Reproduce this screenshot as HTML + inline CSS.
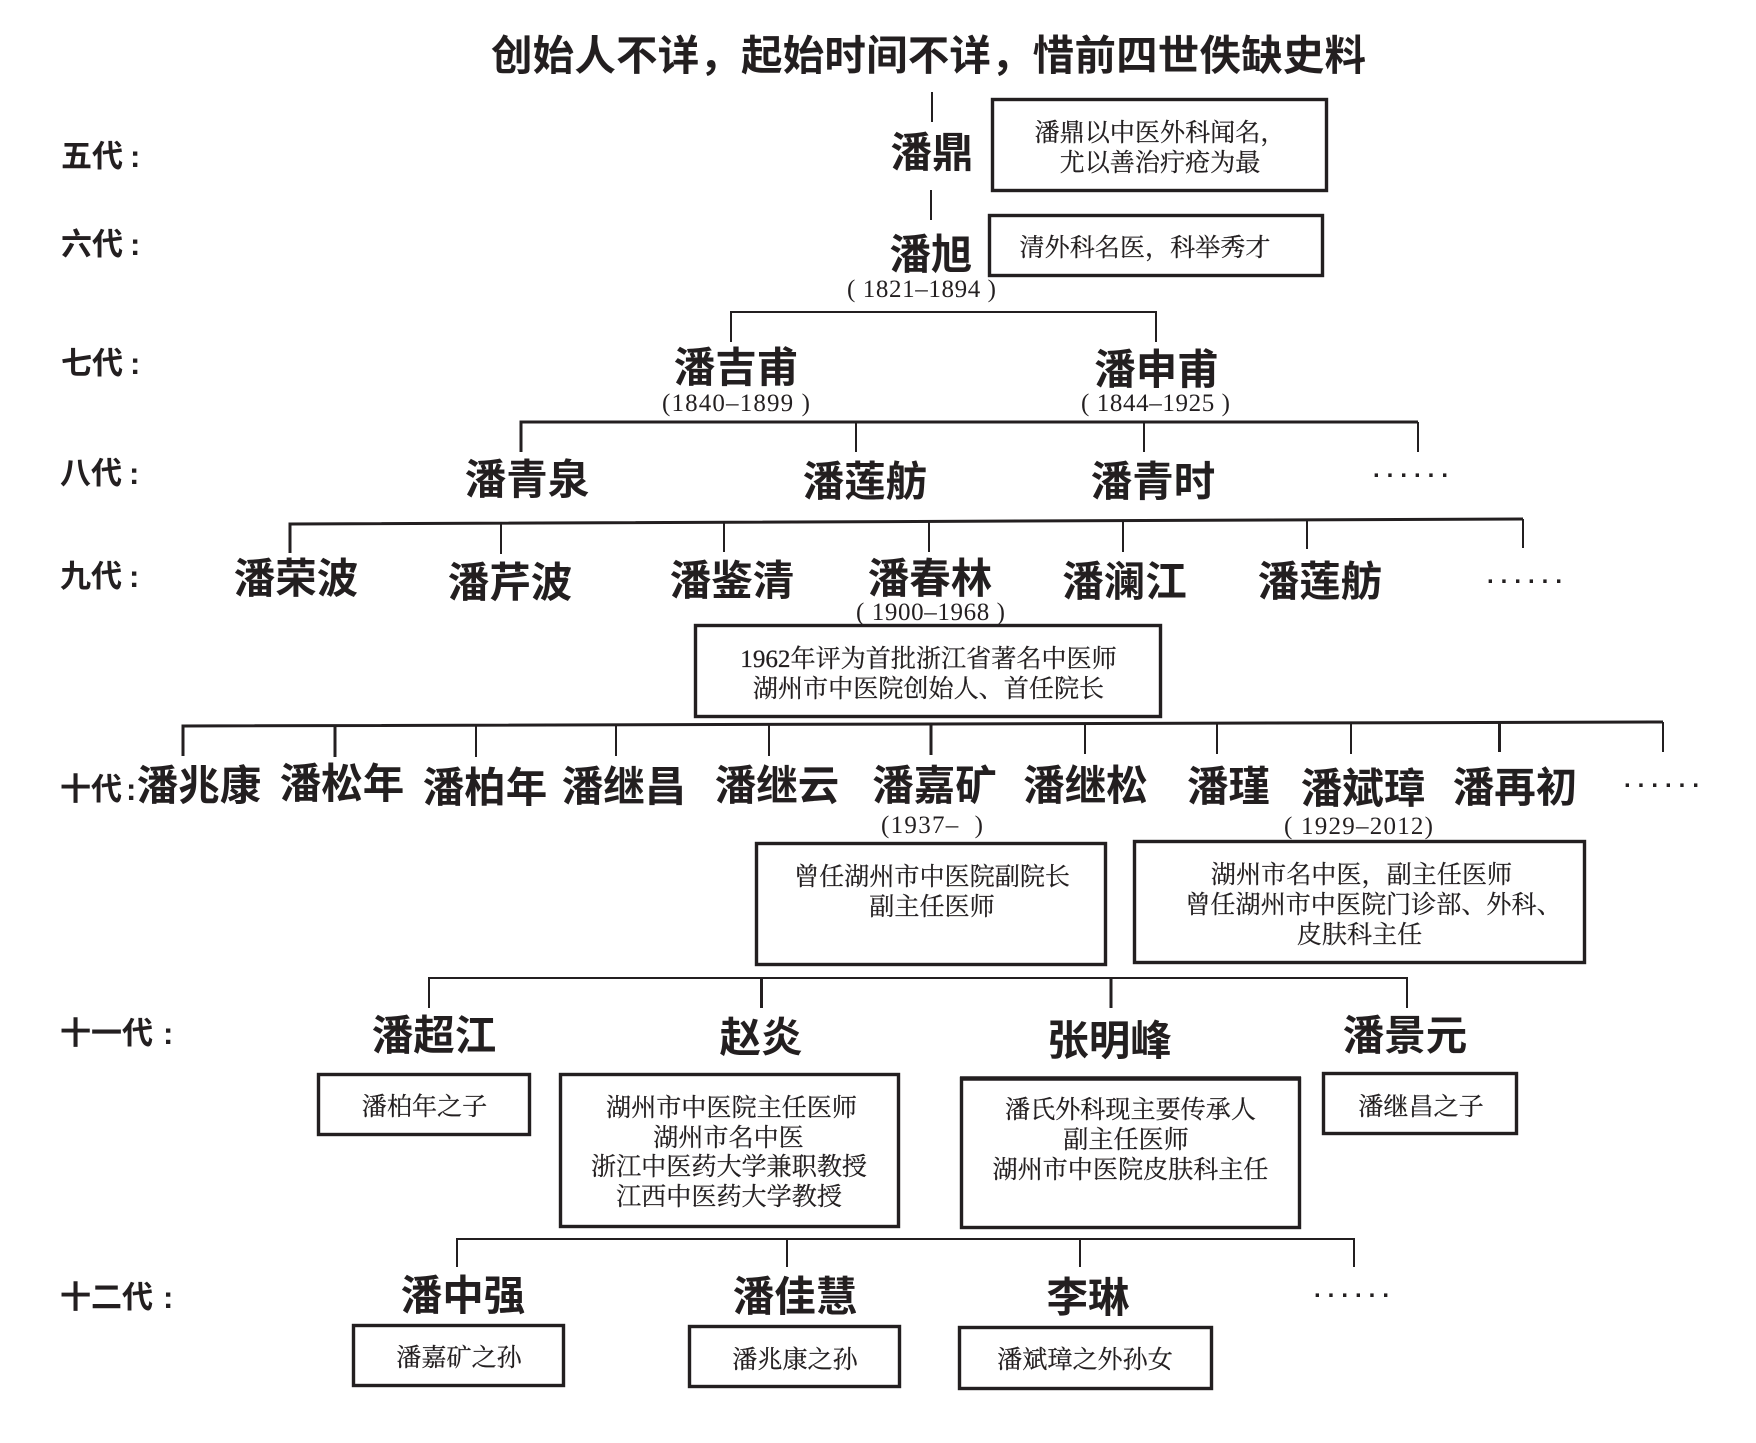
<!DOCTYPE html>
<html lang="zh">
<head>
<meta charset="utf-8">
<title>潘氏外科传承谱系</title>
<style>
html,body{margin:0;padding:0;background:#fff;width:1756px;height:1443px;overflow:hidden}
svg{display:block}
text{fill:#231f20}
.t{font:bold 41.5px "Liberation Sans","Noto Sans CJK SC",sans-serif}
.l{font:bold 31px "Liberation Sans","Noto Sans CJK SC",sans-serif}
.n{font:bold 41.5px "Liberation Sans","Noto Sans CJK SC",sans-serif;text-anchor:middle}
.s{font:25.1px "Liberation Serif","Noto Serif CJK SC",serif;text-anchor:middle;stroke:#231f20;stroke-width:.25}
.d{font:25px "Liberation Serif","Noto Serif CJK SC",serif}
.e{font:bold 24px "Liberation Sans",sans-serif;letter-spacing:7px}
.b{fill:none;stroke:#231f20;stroke-width:3.4}
.c{fill:none;stroke:#231f20;stroke-width:2}
.k{fill:none;stroke:#231f20;stroke-width:3}
</style>
</head>
<body>
<svg width="1756" height="1443" viewBox="0 0 1756 1443" xmlns="http://www.w3.org/2000/svg">
<rect width="1756" height="1443" fill="#fff"/>

<text class="t" x="491" y="70" textLength="875">创始人不详，起始时间不详，惜前四世佚缺史料</text>

<!-- generation labels -->
<text class="l" x="61" y="167">五代<tspan dx="7">:</tspan></text>
<text class="l" x="61" y="255">六代<tspan dx="7">:</tspan></text>
<text class="l" x="61" y="374">七代<tspan dx="7">:</tspan></text>
<text class="l" x="60" y="484">八代<tspan dx="7">:</tspan></text>
<text class="l" x="60" y="587">九代<tspan dx="7">:</tspan></text>
<text class="l" x="60" y="800">十代<tspan dx="4">:</tspan></text>
<text class="l" x="60" y="1044">十一代<tspan dx="10">:</tspan></text>
<text class="l" x="60" y="1308">十二代<tspan dx="10">:</tspan></text>

<!-- connectors -->
<path class="c" d="M932 92V122M931 190V220"/>
<path class="c" d="M731 342V312H1156V342"/>
<path class="k" d="M521 452V422H1418"/>
<path class="c" d="M856 422V452M1144 422V452M1418 422V452"/>
<path class="k" d="M290 553V524L1523 519"/>
<path class="c" d="M501 524V554M724 523V552M929 522V552M1123 521V552M1307 520V549M1523 519V548"/>
<path class="k" d="M183 756V726L1663 722"/>
<path class="c" d="M476 725V757M616 725V756M769 725V756M1085 723V754M1217 723V754M1351 723V754M1663 722V752"/>
<path class="k" d="M931 724V755M335 726V757M1499.5 723V752"/>
<path class="c" d="M429 1008V978H1407V1008"/>
<path class="k" d="M761.5 978V1008M1111 978V1008"/>
<path class="c" d="M457 1267V1239H1354V1267M787 1239V1267M1080 1239V1267"/>

<!-- boxes -->
<rect class="b" x="992.5" y="99.5" width="334" height="91"/>
<rect class="b" x="989.5" y="215.5" width="333" height="60"/>
<rect class="b" x="695.5" y="625.5" width="465" height="91"/>
<rect class="b" x="756.5" y="843.5" width="349" height="121"/>
<rect class="b" x="1134.5" y="841.5" width="450" height="121"/>
<rect class="b" x="318.5" y="1074.5" width="211" height="60"/>
<rect class="b" x="560.5" y="1074.5" width="338" height="152"/>
<rect class="b" x="961.5" y="1078.5" width="338" height="149"/>
<path d="M960 1078.5H1301" fill="none" stroke="#231f20" stroke-width="4.5"/>
<rect class="b" x="1323.5" y="1073.5" width="193" height="60"/>
<rect class="b" x="353.5" y="1325.5" width="210" height="60"/>
<rect class="b" x="689.5" y="1326.5" width="210" height="60"/>
<rect class="b" x="959.5" y="1327.5" width="252" height="61"/>

<!-- names -->
<text class="n" x="932" y="167">潘鼎</text>
<text class="n" x="931" y="269">潘旭</text>
<text class="n" x="736" y="382">潘吉甫</text>
<text class="n" x="1156.5" y="384">潘申甫</text>
<text class="n" x="527" y="494">潘青泉</text>
<text class="n" x="865" y="496">潘莲舫</text>
<text class="n" x="1153" y="496">潘青时</text>
<text class="n" x="296" y="593">潘荣波</text>
<text class="n" x="510" y="597">潘芹波</text>
<text class="n" x="732" y="595">潘鉴清</text>
<text class="n" x="930" y="593">潘春林</text>
<text class="n" x="1124.5" y="596">潘澜江</text>
<text class="n" x="1320" y="596">潘莲舫</text>
<text class="n" x="199" y="800">潘兆康</text>
<text class="n" x="342" y="798">潘松年</text>
<text class="n" x="485" y="802">潘柏年</text>
<text class="n" x="624" y="801">潘继昌</text>
<text class="n" x="777" y="800">潘继云</text>
<text class="n" x="934.5" y="800">潘嘉矿</text>
<text class="n" x="1085.5" y="800">潘继松</text>
<text class="n" x="1228.5" y="801">潘瑾</text>
<text class="n" x="1363" y="803">潘斌璋</text>
<text class="n" x="1515" y="802">潘再初</text>
<text class="n" x="434" y="1050">潘超江</text>
<text class="n" x="761" y="1052">赵炎</text>
<text class="n" x="1109.5" y="1055">张明峰</text>
<text class="n" x="1405" y="1050">潘景元</text>
<text class="n" x="463" y="1310">潘中强</text>
<text class="n" x="795" y="1311">潘佳慧</text>
<text class="n" x="1088" y="1312">李琳</text>

<!-- dates -->
<text class="d" x="847" y="297" textLength="149">(&#160;1821–1894&#160;)</text>
<text class="d" x="662" y="411" textLength="148">(1840–1899&#160;)</text>
<text class="d" x="1081" y="411" textLength="149">(&#160;1844–1925&#160;)</text>
<text class="d" x="856" y="620" textLength="149">(&#160;1900–1968&#160;)</text>
<text class="d" x="881" y="833" textLength="102">(1937–&#160;&#160;)</text>
<text class="d" x="1284" y="834" textLength="149">(&#160;1929–2012)</text>

<!-- box text -->
<text class="s" x="1160" y="141">潘鼎以中医外科闻名，</text>
<text class="s" x="1160" y="171">尤以善治疔疮为最</text>
<text class="s" x="1145" y="256">清外科名医，科举秀才</text>
<text class="s" x="928.5" y="667">1962年评为首批浙江省著名中医师</text>
<text class="s" x="928.5" y="697">湖州市中医院创始人、首任院长</text>
<text class="s" x="932" y="885">曾任湖州市中医院副院长</text>
<text class="s" x="932" y="915">副主任医师</text>
<text class="s" x="1361.5" y="883">湖州市名中医，副主任医师</text>
<text class="s" x="1373.5" y="913">曾任湖州市中医院门诊部、外科、</text>
<text class="s" x="1359.5" y="943">皮肤科主任</text>
<text class="s" x="424.5" y="1115">潘柏年之子</text>
<text class="s" x="731.5" y="1116">湖州市中医院主任医师</text>
<text class="s" x="728.5" y="1146">湖州市名中医</text>
<text class="s" x="729" y="1175">浙江中医药大学兼职教授</text>
<text class="s" x="729" y="1205">江西中医药大学教授</text>
<text class="s" x="1130.5" y="1118">潘氏外科现主要传承人</text>
<text class="s" x="1126" y="1148">副主任医师</text>
<text class="s" x="1130.5" y="1178">湖州市中医院皮肤科主任</text>
<text class="s" x="1421" y="1115">潘继昌之子</text>
<text class="s" x="459" y="1366">潘嘉矿之孙</text>
<text class="s" x="795" y="1368">潘兆康之孙</text>
<text class="s" x="1085" y="1368">潘斌璋之外孙女</text>

<!-- ellipses -->
<text class="e" x="1373" y="477">......</text>
<text class="e" x="1487" y="583">......</text>
<text class="e" x="1624" y="787">......</text>
<text class="e" x="1314" y="1297">......</text>
</svg>
</body>
</html>
